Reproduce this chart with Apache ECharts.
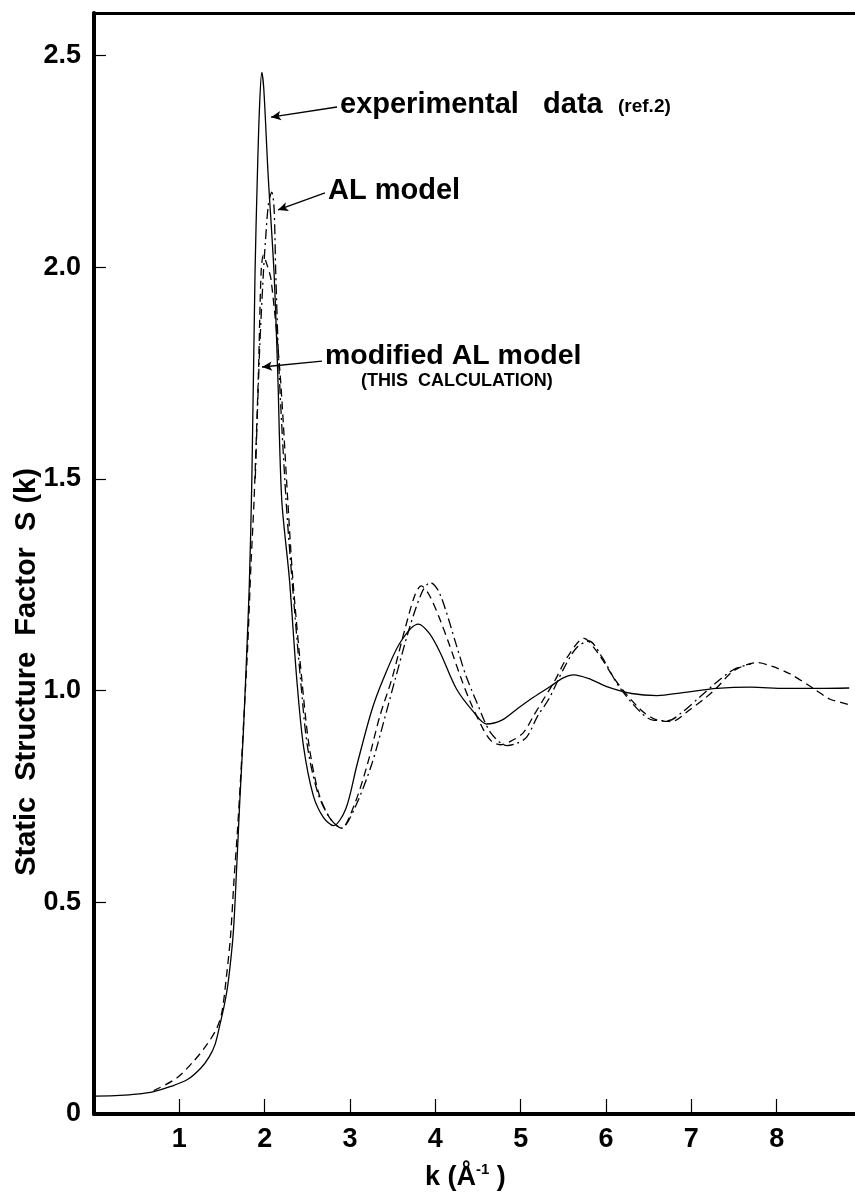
<!DOCTYPE html>
<html>
<head>
<meta charset="utf-8">
<script src="https://cdn.jsdelivr.net/npm/echarts@6/dist/echarts.min.js"></script>
<style>
  html, body { margin: 0; padding: 0; background: #fff; }
  #chart { width: 855px; height: 1203px; }
</style>
</head>
<body>
<div id="chart"></div>
<script>
// S(k), [k, S]
var experimental = [
  [0.02, 0.042], [0.3, 0.044], [0.5, 0.047], [0.7, 0.053], [0.9, 0.065],
  [1.1, 0.082], [1.25, 0.108], [1.35, 0.135], [1.42, 0.165], [1.48, 0.215],
  [1.53, 0.26], [1.575, 0.315], [1.633, 0.43], [1.673, 0.587], [1.71, 0.745],
  [1.75, 0.90], [1.79, 1.09], [1.82, 1.25], [1.85, 1.50], [1.887, 1.986],
  [1.915, 2.22], [1.94, 2.38], [1.966, 2.46], [1.99, 2.42], [2.04, 2.22],
  [2.11, 1.986], [2.153, 1.75], [2.20, 1.451], [2.29, 1.263], [2.376, 1.027],
  [2.454, 0.87], [2.57, 0.752], [2.69, 0.70], [2.806, 0.681], [2.95, 0.72],
  [3.08, 0.823], [3.25, 0.95], [3.39, 1.027], [3.59, 1.114], [3.80, 1.157],
  [3.93, 1.135], [4.056, 1.09], [4.25, 1.003], [4.45, 0.949], [4.60, 0.921],
  [4.78, 0.93], [4.955, 0.956], [5.15, 0.984], [5.35, 1.01], [5.50, 1.03],
  [5.62, 1.037], [5.80, 1.028], [6.0, 1.01], [6.3, 0.993], [6.6, 0.988],
  [6.9, 0.995], [7.3, 1.005], [7.7, 1.008], [8.1, 1.005], [8.5, 1.005],
  [8.85, 1.006]
];
var modifiedAL = [
  [0.7, 0.055], [0.97, 0.085], [1.165, 0.124], [1.32, 0.163], [1.44, 0.203],
  [1.50, 0.242], [1.555, 0.33], [1.60, 0.42], [1.64, 0.55], [1.68, 0.666],
  [1.72, 0.80], [1.76, 0.95], [1.80, 1.10], [1.84, 1.30], [1.876, 1.451],
  [1.927, 1.75], [1.958, 1.986], [1.985, 2.028], [2.02, 2.01], [2.075, 1.97],
  [2.18, 1.75], [2.27, 1.451], [2.33, 1.263], [2.435, 1.027], [2.52, 0.87],
  [2.63, 0.76], [2.76, 0.70], [2.90, 0.675], [3.05, 0.73], [3.20, 0.823],
  [3.35, 0.94], [3.49, 1.027], [3.65, 1.15], [3.76, 1.225], [3.834, 1.247],
  [3.93, 1.225], [4.05, 1.17], [4.17, 1.105], [4.30, 1.03], [4.41, 0.973],
  [4.56, 0.909], [4.66, 0.88], [4.76, 0.872], [4.88, 0.88], [5.03, 0.90],
  [5.15, 0.94], [5.27, 0.98], [5.40, 1.023], [5.55, 1.08], [5.74, 1.123],
  [5.90, 1.09], [6.13, 1.019], [6.40, 0.956], [6.60, 0.93], [6.77, 0.927],
  [6.99, 0.956], [7.15, 0.98], [7.30, 1.007], [7.50, 1.047], [7.77, 1.066],
  [7.95, 1.057], [8.16, 1.039], [8.43, 1.005], [8.62, 0.98], [8.75, 0.972],
  [8.86, 0.966]
];
var alModel = [
  [1.89, 1.50], [1.94, 1.80], [1.985, 1.986], [2.01, 2.064], [2.045, 2.15],
  [2.083, 2.177], [2.11, 2.14], [2.13, 1.986], [2.17, 1.75], [2.25, 1.451],
  [2.32, 1.263], [2.42, 1.027], [2.50, 0.87], [2.62, 0.76], [2.76, 0.70],
  [2.90, 0.675], [3.05, 0.72], [3.25, 0.823], [3.40, 0.93], [3.53, 1.027],
  [3.70, 1.15], [3.85, 1.235], [3.94, 1.255], [4.05, 1.23], [4.25, 1.105],
  [4.35, 1.04], [4.49, 0.97], [4.65, 0.90], [4.84, 0.87], [4.95, 0.875],
  [5.07, 0.89], [5.20, 0.94], [5.33, 0.98], [5.50, 1.05], [5.65, 1.10],
  [5.80, 1.117], [5.95, 1.08], [6.15, 1.01], [6.40, 0.95], [6.55, 0.93],
  [6.73, 0.929], [6.90, 0.95], [7.10, 0.985], [7.30, 1.02], [7.50, 1.05],
  [7.70, 1.063]
];
var xTicks = [1, 2, 3, 4, 5, 6, 7, 8];
var yTicks = ['0', '0.5', '1.0', '1.5', '2.0', '2.5'];

// arrows from the labels to the curves, in data coordinates
var arrowExp = [[2.848, 2.378], [2.074, 2.354]];
var arrowAL = [[2.707, 2.175], [2.156, 2.135]];
var arrowMod = [[2.672, 1.778], [1.969, 1.764]];

var numFont = '"Liberation Sans Narrow", "Liberation Sans", Arial, sans-serif';
var textFont = '"Liberation Sans", Arial, sans-serif';

var arrowLine = function(a) {
  return [{coord: a[0], symbol: 'none'}, {coord: a[1], symbol: 'arrow', symbolSize: [7, 10]}];
};

var chart = echarts.init(document.getElementById('chart'), null, {renderer: 'canvas'});
var option = {
  animation: false,
  backgroundColor: '#fff',
  grid: { left: 94, top: 13, width: 768, height: 1101, outerBoundsMode: 'none', containLabel: false },
  xAxis: [
    {
      type: 'value', min: 0, max: 9, interval: 1,
      axisLine: { lineStyle: { color: '#000', width: 4 } },
      axisTick: { inside: true, length: 15, lineStyle: { color: '#000', width: 1.2 } },
      splitLine: { show: false },
      axisLabel: {
        margin: 12, color: '#000', fontFamily: numFont, fontWeight: 'bold', fontSize: 27,
        formatter: function(v) { return xTicks.indexOf(v) >= 0 ? String(v) : ''; }
      }
    },
    {
      type: 'value', position: 'top', min: 0, max: 9,
      axisLine: { show: true, lineStyle: { color: '#000', width: 3 } },
      axisTick: { show: false }, axisLabel: { show: false }, splitLine: { show: false }
    }
  ],
  yAxis: {
    type: 'value', min: 0, max: 2.6, interval: 0.5,
    axisLine: { show: true, lineStyle: { color: '#000', width: 4 } },
    axisTick: { show: true, inside: true, length: 12, lineStyle: { color: '#000', width: 1.2 } },
    splitLine: { show: false },
    axisLabel: {
      margin: 13, color: '#000', fontFamily: numFont, fontWeight: 'bold', fontSize: 27,
      formatter: function(v) {
        var i = v / 0.5;
        return Math.abs(i - Math.round(i)) < 1e-6 ? (yTicks[Math.round(i)] || '') : '';
      }
    }
  },
  series: [
    {
      name: 'experimental', type: 'line', data: experimental,
      showSymbol: false, smooth: 0.3,
      lineStyle: { color: '#000', width: 1.3, type: 'solid' },
      markLine: {
        silent: true, animation: false, label: { show: false },
        lineStyle: { color: '#000', width: 1.3, type: 'solid' },
        data: [arrowLine(arrowExp), arrowLine(arrowAL), arrowLine(arrowMod)]
      }
    },
    {
      name: 'AL model', type: 'line', data: alModel,
      showSymbol: false, smooth: 0.3,
      lineStyle: { color: '#000', width: 1.3, type: [10, 4, 2, 4] }
    },
    {
      name: 'modified AL model', type: 'line', data: modifiedAL,
      showSymbol: false, smooth: 0.3,
      lineStyle: { color: '#000', width: 1.3, type: [8, 5] }
    }
  ],
  graphic: [
    { type: 'text', left: 340, top: 90,
      style: { text: 'experimental   data', font: 'bold 29px ' + textFont, fill: '#000' } },
    { type: 'text', left: 618, top: 97,
      style: { text: '(ref.2)', font: 'bold 19px ' + textFont, fill: '#000' } },
    { type: 'text', left: 328, top: 176,
      style: { text: 'AL model', font: 'bold 29px ' + textFont, fill: '#000' } },
    { type: 'text', left: 325, top: 342,
      style: { text: 'modified AL model', font: 'bold 28.5px ' + textFont, fill: '#000' } },
    { type: 'text', left: 361, top: 372,
      style: { text: '(THIS  CALCULATION)', font: 'bold 18px ' + textFont, fill: '#000' } },
    { type: 'text', x: 27, y: 672, rotation: Math.PI / 2,
      style: { text: 'Static  Structure  Factor  S (k)', font: 'bold 29px ' + numFont,
               fill: '#000', align: 'center', verticalAlign: 'middle' } },
    { type: 'text', left: 425, top: 1162,
      style: {
        text: '{a|k (Å}{s|-1}{a| )}',
        rich: {
          a: { font: 'bold 27px ' + numFont, fill: '#000', verticalAlign: 'bottom' },
          s: { font: 'bold 15px ' + numFont, fill: '#000', verticalAlign: 'top', padding: [0, 0, 14, 0] }
        }
      }
    }
  ]
};
chart.setOption(option);
</script>
</body>
</html>
